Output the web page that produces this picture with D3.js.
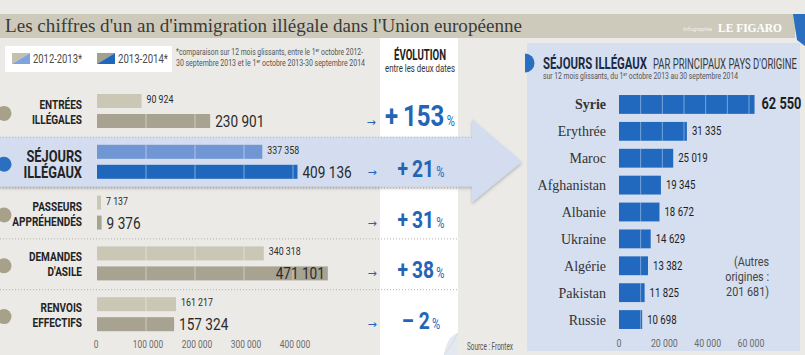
<!DOCTYPE html>
<html><head><meta charset="utf-8">
<script src="https://cdn.jsdelivr.net/npm/d3@7"></script>
<style>
html,body{margin:0;padding:0;background:#ebeae7;}
svg{display:block;}
.cond{font-family:Roboto,'Noto Sans',sans-serif;}
.serif{font-family:'Liberation Serif','DejaVu Serif',serif;}
</style></head>
<body>
<svg id="c" width="805" height="355"></svg>
<script>
// ---------- DATA ----------
const categories = [["ENTRÉES","ILLÉGALES"],["SÉJOURS","ILLÉGAUX"],["PASSEURS","APPRÉHENDÉS"],["DEMANDES","D'ASILE"],["RENVOIS","EFFECTIFS"]];
const values2012 = [90924, 337358, 7137, 340318, 161217];
const values2013 = [230901, 409136, 9376, 471101, 157324];
const evolution = [153, 21, 31, 38, -2];
const xTicks = [0, 100000, 200000, 300000, 400000];
const legendLabels = ["2012-2013*", "2013-2014*"];
const countries = ["Syrie","Erythrée","Maroc","Afghanistan","Albanie","Ukraine","Algérie","Pakistan","Russie"];
const countryValues = [62550, 31335, 25019, 19345, 18672, 14629, 13382, 11825, 10698];
const countryTicks = [0, 20000, 40000, 60000];

// ---------- SETUP ----------
const svg = d3.select("#c");
const loc = d3.formatLocale({decimal:",", thousands:"\u00a0", grouping:[3], currency:["","€"]});
const fmt = loc.format(",d");
const COND = "cond";
const SQ = 0.8;
const blueDark = "#1f66bd", blueLight = "#7096d4", khakiLight = "#cbc7b5", khakiDark = "#a8a291";
const pctBlue = "#2365b4";

const defs = svg.append("defs");
const sh = defs.append("filter").attr("id","shadow").attr("x","-5%").attr("y","-20%").attr("width","110%").attr("height","150%");
sh.append("feDropShadow").attr("dx",0).attr("dy",2).attr("stdDeviation",1.5).attr("flood-color","#7a7f88").attr("flood-opacity",0.45);

// background
svg.append("rect").attr("width",805).attr("height",355).attr("fill","#ebeae7");

// title bar
svg.append("rect").attr("x",0).attr("y",14).attr("width",795).attr("height",24).attr("fill","#cdcabc");
svg.append("path").attr("d","M793,14 L805,14 L805,46 L797,40 Z").attr("fill","#2a6fc0");
svg.append("text").attr("class","serif").attr("x",5).attr("y",32).attr("font-size",18).attr("fill","#3a3a38")
  .attr("textLength",517).attr("lengthAdjust","spacingAndGlyphs")
  .text("Les chiffres d'un an d'immigration illégale dans l'Union européenne");
svg.append("text").attr("x",683).attr("y",31).attr("font-family","Roboto").attr("font-size",6).attr("fill","#f2f0e8")
  .attr("textLength",29).attr("lengthAdjust","spacingAndGlyphs").text("Infographie");
svg.append("text").attr("class","serif").attr("x",718).attr("y",32).attr("font-size",12).attr("font-weight","bold").attr("fill","#fff")
  .attr("textLength",64).attr("lengthAdjust","spacingAndGlyphs").text("LE FIGARO");

// ---------- LEFT PANEL ----------
const x = d3.scaleLinear().domain([0, 400000]).range([97, 293]);
const yb = d3.scaleBand().domain(d3.range(categories.length)).range([86, 340]);
const barH = 14, bar1 = 8, bar2 = 28;

// evolution column
svg.append("rect").attr("x",380).attr("y",38).attr("width",78).attr("height",317).attr("fill","#ffffff");
// peel corner
svg.append("path").attr("d","M458,333 Q447,336 444,355 L458,355 Z").attr("fill","#e3e8f1");
svg.append("path").attr("d","M458,333 Q452,345 444,355").attr("fill","none").attr("stroke","#d0d6e0").attr("stroke-width",0.8);

// dotted separators
[2,3,4].forEach(i=>{
  svg.append("line").attr("x1",0).attr("x2",458).attr("y1",yb(i)+0.5).attr("y2",yb(i)+0.5)
    .attr("stroke","#b4b1aa").attr("stroke-width",1).attr("stroke-dasharray","1,2");
});

// highlight band + arrow for Séjours
const hs = yb(1), he = yb(1) + yb.bandwidth() - 1;
const hm = (hs+he)/2;
svg.append("path")
  .attr("d",`M0,${hs} L472,${hs} L472,${hs-18} L522,${hm} L472,${he+16} L472,${he} L0,${he} Z`)
  .attr("fill","#d3ddef").attr("filter","url(#shadow)");
svg.append("line").attr("x1",0).attr("x2",472).attr("y1",hs+0.5).attr("y2",hs+0.5)
  .attr("stroke","#b9bcc2").attr("stroke-dasharray","1,2");

// left circles
categories.forEach((c,i)=>{
  svg.append("circle").attr("cx",4).attr("cy",yb(i)+yb.bandwidth()/2+2).attr("r",7.5)
    .attr("fill", i===1 ? "#2a6fc0" : "#a8a18a");
});

// category labels
categories.forEach((c,i)=>{
  const big = i===1;
  const t = svg.append("text").attr("class",COND+" ml").attr("text-anchor","end").attr("font-weight","bold")
    .attr("font-size", big?16:12.5).attr("fill","#232323");
  t.append("tspan").attr("x",82).attr("y",yb(i)+(big?25:23)).text(c[0]);
  t.append("tspan").attr("x",82).attr("y",yb(i)+(big?41:38)).text(c[1]);
});

// bars
function drawBar(v, yTop, color){
  const w = Math.max(4, x(v)-x(0));
  svg.append("rect").attr("x",x(0)).attr("y",yTop).attr("width",w).attr("height",barH).attr("fill",color);
  xTicks.filter(t=>t>0 && x(t) < x(0)+w-1).forEach(t=>{
    svg.append("line").attr("x1",x(t)).attr("x2",x(t)).attr("y1",yTop).attr("y2",yTop+barH)
      .attr("stroke","#ffffff").attr("stroke-opacity",0.55).attr("stroke-width",0.8);
  });
  return x(0)+w;
}
categories.forEach((c,i)=>{
  const s = i===1;
  const e1 = drawBar(values2012[i], yb(i)+bar1, s?blueLight:khakiLight);
  const e2 = drawBar(values2013[i], yb(i)+bar2, s?blueDark:khakiDark);
  svg.append("text").attr("class",COND).attr("x",e1+5).attr("y",yb(i)+bar1+9).attr("font-size",11).attr("fill","#2a2a2a")
    .text(fmt(values2012[i]));
  const inside = values2013[i] > 450000;
  svg.append("text").attr("class",COND).attr("x", inside? e2-3 : e2+5).attr("y",yb(i)+bar2+13)
    .attr("text-anchor", inside?"end":"start").attr("font-size",17).attr("fill","#2a2a2a")
    .text(fmt(values2013[i]));
});

// left axis tick labels
xTicks.forEach(t=>{
  svg.append("text").attr("class",COND).attr("x",x(t)+(t?2:-1)).attr("y",348).attr("text-anchor","middle")
    .attr("font-size",10.5).attr("fill","#6b6b6b").text(fmt(t));
});

// legend
svg.append("rect").attr("x",5).attr("y",46).attr("width",167).attr("height",26).attr("fill","#ffffff");
[[12,"#c4c0ae","#7ea3de",49],[97,"#a59f8d",blueDark,50]].forEach((s,k)=>{
  const sx=s[0], sy=53, sw=18, shh=11;
  svg.append("path").attr("d",`M${sx},${sy} L${sx+sw},${sy} L${sx},${sy+shh} Z`).attr("fill",s[1]);
  svg.append("path").attr("d",`M${sx+sw},${sy} L${sx+sw},${sy+shh} L${sx},${sy+shh} Z`).attr("fill",s[2]);
  svg.append("text").attr("class",COND).attr("data-w",s[3]).attr("x",sx+21).attr("y",63).attr("font-size",13).attr("fill","#4a4a4a")
    .text(legendLabels[k]);
});

// footnote
const fn = svg.append("text").attr("class",COND+" ml").attr("font-size",9).attr("fill","#555");
const l1 = fn.append("tspan").attr("x",176).attr("y",55).attr("data-w",187);
l1.append("tspan").text("*comparaison sur 12 mois glissants, entre le 1");
l1.append("tspan").attr("font-size",6).attr("dy",-3).text("er");
l1.append("tspan").attr("dy",3).text(" octobre 2012-");
const l2 = fn.append("tspan").attr("x",176).attr("y",65.5).attr("data-w",189);
l2.append("tspan").text("30 septembre 2013 et le 1");
l2.append("tspan").attr("font-size",6).attr("dy",-3).text("er");
l2.append("tspan").attr("dy",3).text(" octobre 2013-30 septembre 2014");

// evolution header
svg.append("text").attr("class",COND).attr("data-w",52).attr("x",420).attr("y",60).attr("text-anchor","middle")
  .attr("font-size",15).attr("font-weight","bold").attr("fill","#222").text("ÉVOLUTION");
svg.append("text").attr("class",COND).attr("data-w",70).attr("x",420).attr("y",72).attr("text-anchor","middle")
  .attr("font-size",10.5).attr("fill","#333").text("entre les deux dates");

// percentages + arrows
evolution.forEach((v,i)=>{
  const big = Math.abs(v) >= 100;
  const base = yb(i)+40;
  const t = svg.append("text").attr("class",COND).attr("x", big?420:421).attr("y",base).attr("text-anchor","middle").attr("fill",pctBlue);
  t.append("tspan").attr("font-size", big?30:24).attr("font-weight","bold").text((v<0?"– ":"+\u2009") + Math.abs(v));
  t.append("tspan").attr("font-size",14).text("\u2009%");
  svg.append("text").attr("x", big?371:372).attr("y",base - (big?0:1)).attr("text-anchor","middle")
    .attr("font-family","DejaVu Sans, sans-serif").attr("font-size",11).attr("fill",pctBlue).text("→");
});

// source
svg.append("text").attr("class",COND).attr("data-w",46).attr("x",467).attr("y",350).attr("font-size",10).attr("fill","#555").text("Source : Frontex");

// ---------- RIGHT PANEL ----------
svg.append("rect").attr("x",527).attr("y",43).attr("width",273).attr("height",308).attr("fill","#d5dff0");
svg.append("path").attr("d","M525,53.5 A9.5,9.5 0 0 1 525,72.5 Z").attr("fill","#2a6fc0");
svg.append("text").attr("class",COND).attr("data-w",104).attr("x",543).attr("y",69).attr("font-size",16).attr("font-weight","bold")
  .attr("fill","#1b2b48").text("SÉJOURS ILLÉGAUX");
svg.append("text").attr("class",COND).attr("data-w",144).attr("x",653).attr("y",69).attr("font-size",14.5).attr("fill","#3a3a3a")
  .text("PAR PRINCIPAUX PAYS D'ORIGINE");
const st = svg.append("text").attr("class",COND).attr("data-w",195).attr("x",543).attr("y",79).attr("font-size",8.5).attr("fill","#555");
st.append("tspan").text("sur 12 mois glissants, du 1");
st.append("tspan").attr("font-size",5.5).attr("dy",-3).text("er");
st.append("tspan").attr("dy",3).text(" octobre 2013 au 30 septembre 2014");

const xr = d3.scaleLinear().domain([0, 60000]).range([619, 749]);
const yr = d3.scaleBand().domain(countries).range([91, 333]).paddingInner(0.3).paddingOuter(0.15);

countries.forEach((c,i)=>{
  const v = countryValues[i];
  const y0 = yr(c), bh = yr.bandwidth();
  svg.append("rect").attr("x",xr(0)).attr("y",y0).attr("width",xr(v)-xr(0)).attr("height",bh).attr("fill","#2168bf");
  d3.range(10000, v, 10000).forEach(t=>{
    svg.append("line").attr("x1",xr(t)).attr("x2",xr(t)).attr("y1",y0).attr("y2",y0+bh)
      .attr("stroke","#ffffff").attr("stroke-opacity",0.5).attr("stroke-width",0.8);
  });
  svg.append("text").attr("class","serif").attr("x",606).attr("y",y0+bh/2+5).attr("text-anchor","end")
    .attr("font-size",14).attr("font-weight", i===0?"bold":"normal").attr("fill","#333").text(c);
  svg.append("text").attr("class",COND).attr("x",xr(v)+(i===0?7:5)).attr("y",y0+bh/2+(i===0?5:4))
    .attr("font-size", i===0?16:12).attr("font-weight", i===0?"bold":"normal").attr("fill","#1e1e1e").text(fmt(v));
});
countryTicks.forEach(t=>{
  svg.append("text").attr("class",COND).attr("x",xr(t)+(t?2:0)).attr("y",347).attr("text-anchor","middle")
    .attr("font-size",11).attr("fill","#6b6b6b").text(fmt(t));
});
const au = svg.append("text").attr("class",COND+" ml").attr("text-anchor","end").attr("font-size",13.5).attr("fill","#444");
["(Autres","origines :","201\u00a0681)"].forEach((s,k)=>au.append("tspan").attr("x",769).attr("y",266+k*15).text(s));

// ---------- condense sans text (no condensed font installed) ----------
function squeeze(node, f){
  const w = node.getAttribute("data-w");
  const len = w ? +w : node.getComputedTextLength()*f;
  node.setAttribute("textLength", len.toFixed(1));
  node.setAttribute("lengthAdjust","spacingAndGlyphs");
}
svg.selectAll("text.cond").each(function(){
  if (this.classList.contains("ml")) {
    d3.select(this).selectAll(":scope > tspan").each(function(){ squeeze(this, SQ); });
  } else {
    squeeze(this, SQ);
  }
});
</script>
</body></html>
